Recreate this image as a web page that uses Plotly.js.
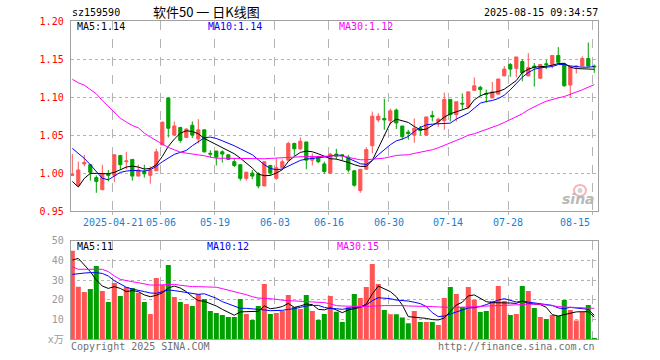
<!DOCTYPE html>
<html>
<head>
<meta charset="utf-8">
<script src="https://cdn.plot.ly/plotly-3.0.1.min.js"></script>
<style>html,body{margin:0;padding:0;background:#fff;}#chart{width:660px;height:360px;}</style>
</head>
<body>
<div id="chart"></div>
<script>
// ---------------- data ----------------
const dates = ["2025-04-10","2025-04-11","2025-04-14","2025-04-15","2025-04-16","2025-04-17","2025-04-18","2025-04-21","2025-04-22","2025-04-23","2025-04-24","2025-04-25","2025-04-28","2025-04-29","2025-04-30","2025-05-06","2025-05-07","2025-05-08","2025-05-09","2025-05-12","2025-05-13","2025-05-14","2025-05-15","2025-05-16","2025-05-19","2025-05-20","2025-05-21","2025-05-22","2025-05-23","2025-05-26","2025-05-27","2025-05-28","2025-05-29","2025-05-30","2025-06-03","2025-06-04","2025-06-05","2025-06-06","2025-06-09","2025-06-10","2025-06-11","2025-06-12","2025-06-13","2025-06-16","2025-06-17","2025-06-18","2025-06-19","2025-06-20","2025-06-23","2025-06-24","2025-06-25","2025-06-26","2025-06-27","2025-06-30","2025-07-01","2025-07-02","2025-07-03","2025-07-04","2025-07-07","2025-07-08","2025-07-09","2025-07-10","2025-07-11","2025-07-14","2025-07-15","2025-07-16","2025-07-17","2025-07-18","2025-07-21","2025-07-22","2025-07-23","2025-07-24","2025-07-25","2025-07-28","2025-07-29","2025-07-30","2025-07-31","2025-08-01","2025-08-04","2025-08-05","2025-08-06","2025-08-07","2025-08-08","2025-08-11","2025-08-12","2025-08-13","2025-08-14","2025-08-15"];

const openP = [0.997,0.984,1.012,1.011,0.994,0.978,0.999,0.997,1.023,1.015,
1.018,0.996,1.002,0.997,1.003,1.037,1.099,1.050,1.060,1.047,
1.063,1.045,1.057,1.026,1.029,1.028,1.024,1.015,1.011,0.993,
1.000,0.999,0.983,1.010,0.993,1.007,1.017,1.039,1.032,1.041,
1.017,1.021,1.012,1.000,1.025,1.024,1.021,1.003,0.977,1.005,
1.036,1.070,1.072,1.069,1.083,1.062,1.054,1.050,1.059,1.050,
1.076,1.068,1.069,1.097,1.077,1.092,1.087,1.109,1.113,1.105,
1.099,1.104,1.128,1.143,1.138,1.147,1.128,1.141,1.125,1.144,
1.143,1.155,1.144,1.116,1.140,1.141,1.151,1.141];

const closeP = [0.998,1.004,1.014,1.001,0.989,0.999,0.997,1.024,1.011,1.016,
0.996,1.004,0.999,1.004,1.028,1.067,1.059,1.062,1.043,1.058,
1.050,1.057,1.028,1.025,1.021,1.025,1.018,1.010,0.993,1.001,
0.996,0.983,1.015,1.000,1.007,1.015,1.039,1.032,1.042,1.017,
1.022,1.015,1.002,1.025,1.022,1.023,1.004,0.984,1.005,1.031,
1.075,1.075,1.070,1.082,1.066,1.048,1.052,1.059,1.056,1.074,
1.074,1.071,1.097,1.077,1.094,1.091,1.107,1.115,1.110,1.104,
1.107,1.124,1.137,1.137,1.153,1.132,1.139,1.139,1.143,1.143,
1.155,1.146,1.115,1.140,1.141,1.151,1.141,1.140];

const highP = [1.025,1.015,1.024,1.012,0.997,1.011,1.004,1.025,1.024,1.028,
1.018,1.011,1.011,1.009,1.032,1.068,1.099,1.068,1.061,1.059,
1.068,1.071,1.057,1.030,1.029,1.030,1.025,1.019,1.011,1.002,
1.004,1.001,1.015,1.011,1.019,1.018,1.041,1.040,1.047,1.041,
1.026,1.023,1.015,1.026,1.032,1.025,1.024,1.004,1.005,1.034,
1.081,1.079,1.098,1.085,1.085,1.062,1.057,1.072,1.062,1.074,
1.082,1.073,1.106,1.097,1.094,1.105,1.107,1.126,1.115,1.110,
1.120,1.124,1.141,1.145,1.153,1.150,1.158,1.145,1.143,1.149,
1.155,1.166,1.145,1.140,1.141,1.154,1.172,1.143];

const lowP = [0.996,0.983,1.009,0.990,0.974,0.978,0.989,0.988,1.005,1.005,
0.990,0.996,0.994,0.986,1.003,1.037,1.047,1.050,1.040,1.046,
1.046,1.039,1.027,1.020,1.010,1.014,1.017,1.008,0.990,0.990,
0.992,0.980,0.983,0.997,0.991,1.006,1.017,1.023,1.030,1.005,
1.010,1.013,0.999,0.999,1.018,1.017,1.001,0.982,0.974,1.005,
1.026,1.067,1.057,1.064,1.058,1.044,1.044,1.040,1.050,1.049,
1.068,1.061,1.057,1.068,1.068,1.084,1.085,1.108,1.101,1.093,
1.099,1.104,1.128,1.127,1.126,1.121,1.128,1.114,1.124,1.137,
1.138,1.144,1.114,1.100,1.131,1.141,1.140,1.132];

const ma5 = [0.989,0.9816,0.993,0.9996,0.9996,0.9991,0.9991,1.0009,1.0044,1.0079,
1.0092,1.0079,1.0053,1.0061,1.011,1.0219,1.0351,1.0447,1.0526,1.0557,
1.0548,1.0518,1.0456,1.0417,1.0373,1.0342,1.0298,1.0254,1.0197,1.0132,
1.0066,0.9987,0.9965,0.9969,1.0,1.0044,1.0154,1.0219,1.0272,1.0289,
1.0281,1.0254,1.0219,1.0189,1.0184,1.0167,1.014,1.011,1.0088,1.0088,
1.0167,1.0329,1.0504,1.0658,1.0711,1.0684,1.0667,1.0614,1.057,1.0579,
1.0627,1.0675,1.0737,1.0781,1.0807,1.0833,1.086,1.0965,1.1018,1.1048,
1.1061,1.1075,1.1105,1.1158,1.1219,1.1325,1.1368,1.1395,1.1399,1.1408,
1.1421,1.1443,1.1447,1.1395,1.1377,1.1377,1.1377,1.1368];

const ma10 = [1.0325,1.0263,1.0193,1.011,1.0022,0.993,0.9912,0.9965,1.0009,1.0026,
1.0035,1.0031,1.0026,1.0044,1.0088,1.0149,1.0202,1.0246,1.0272,1.0298,
1.036,1.0412,1.0465,1.0474,1.0456,1.0425,1.0395,1.036,1.032,1.0281,
1.0241,1.0175,1.011,1.0061,1.0044,1.0053,1.0088,1.0132,1.0167,1.0184,
1.0197,1.0202,1.0211,1.0224,1.0237,1.0232,1.0197,1.0158,1.0123,1.0114,
1.0167,1.0241,1.0307,1.0373,1.0425,1.0447,1.0482,1.0548,1.0601,1.0636,
1.0645,1.0649,1.0658,1.0658,1.0711,1.0746,1.0789,1.0855,1.0921,1.0943,
1.0956,1.0982,1.1026,1.1097,1.1184,1.1263,1.1325,1.1368,1.1386,1.1395,
1.1404,1.143,1.143,1.1412,1.1399,1.1395,1.1395,1.1404];

const ma30 = [1.1237,1.1189,1.1158,1.1105,1.1044,1.0956,1.0877,1.0798,1.0724,1.0671,
1.0627,1.0596,1.0526,1.0474,1.0425,1.0382,1.0338,1.0307,1.0276,1.0263,
1.0254,1.0246,1.0228,1.0211,1.0195,1.0195,1.0193,1.0191,1.0189,1.0189,
1.0184,1.0184,1.0189,1.0193,1.0197,1.0202,1.0206,1.0215,1.0219,1.0219,
1.0215,1.0215,1.0215,1.0224,1.0228,1.0224,1.0206,1.0193,1.0175,1.0175,
1.0180,1.0184,1.0197,1.0215,1.0232,1.0238,1.0241,1.0259,1.0272,1.0289,
1.0307,1.0333,1.0368,1.0395,1.043,1.0461,1.05,1.0518,1.0544,1.057,
1.0605,1.0632,1.0667,1.0702,1.0737,1.0781,1.0833,1.0877,1.0912,1.0947,
1.0974,1.0991,1.1009,1.1035,1.107,1.1097,1.1132,1.1165];

const volume = [44.9,26.7,24.0,25.5,37.2,24.5,18.9,28.5,22.0,26.5,
26.0,23.6,18.9,12.8,31.1,27.5,37.7,21.5,18.9,17.9,
16.9,23.0,20.4,14.4,13.3,12.3,11.3,11.3,20.4,12.8,
9.8,16.9,28.0,12.8,13.3,14.4,22.5,16.4,15.4,22.5,
14.4,9.8,12.8,22.0,14.0,8.8,16.2,23.0,21.0,26.5,
38.2,28.0,14.9,12.7,12.7,11.1,8.1,14.4,8.8,8.8,
8.8,7.3,21.0,26.5,23.0,16.4,26.5,20.0,13.9,14.4,
19.4,27.0,19.4,12.3,12.8,27.0,24.5,15.9,11.3,10.3,
12.3,11.8,19.9,14.9,9.5,13.9,17.4,0.7];

const vma5 = [40.2,41.0,37.7,34.3,30.1,27.0,25.8,26.7,25.8,24.2,
24.7,24.2,22.5,21.6,22.3,23.6,26.0,27.0,26.0,24.2,
21.6,19.6,19.3,18.2,16.9,15.2,13.5,12.2,13.9,13.9,
13.9,14.2,16.9,15.5,15.9,16.6,18.2,16.2,16.9,17.9,
17.6,15.2,14.9,16.0,14.9,13.5,14.9,15.7,16.2,17.9,
23.0,27.0,25.8,24.2,21.6,17.4,11.5,11.3,11.1,10.6,
10.0,9.8,10.8,14.0,17.4,18.8,22.0,22.5,20.8,19.1,
18.6,18.6,18.6,18.4,18.2,19.4,18.2,17.9,17.6,16.2,
12.5,11.8,12.5,13.2,13.9,14.0,14.0,11.3];

const vma10 = [32.9,33.4,33.6,33.8,33.8,33.4,32.1,29.7,27.9,26.4,
25.5,25.0,24.2,23.5,23.3,24.2,25.0,24.7,24.2,23.5,
23.0,22.8,23.1,22.1,20.8,19.1,17.9,16.6,15.7,15.7,
15.5,15.2,14.9,14.5,14.5,14.7,15.2,15.5,16.2,16.9,
17.2,17.2,16.2,15.6,15.5,15.2,15.7,16.2,16.4,17.4,
19.6,21.1,20.9,20.6,19.9,19.8,19.4,18.8,18.1,16.6,
13.5,11.5,11.8,12.8,13.9,14.9,15.9,16.0,16.6,17.6,
18.9,19.9,20.6,19.9,18.9,19.3,18.9,18.6,17.9,17.6,
17.2,15.9,15.5,16.2,15.9,15.5,15.2,12.2];

const vma30 = [36.8,35.5,35.5,35.5,35.8,35.5,34.3,32.1,30.4,29.7,
29.2,28.7,28.0,27.5,27.5,27.7,28.0,27.9,27.4,27.0,
26.7,26.7,26.7,26.5,26.4,25.7,25.0,24.2,23.5,22.6,
21.6,20.9,20.8,20.6,20.3,19.8,19.6,19.4,19.3,19.3,
19.1,18.9,18.6,18.0,17.1,16.9,16.7,16.6,16.6,16.7,
16.9,16.9,17.1,17.1,17.2,17.1,16.9,16.9,16.7,16.6,
16.6,16.4,16.2,16.2,16.2,16.2,16.4,16.6,16.7,16.9,
16.9,17.1,17.2,17.2,17.4,17.6,17.9,17.9,17.7,17.4,
16.9,16.6,16.4,16.2,16.0,15.9,15.9,15.7];

const tickDates = ["2025-04-21","2025-05-06","2025-05-19","2025-06-03","2025-06-16","2025-06-30","2025-07-14","2025-07-28","2025-08-15"];
const tickLabels = ["2025-04-21","05-06","05-19","06-03","06-16","06-30","07-14","07-28","08-15"];
const priceTicks = [0.95,1.00,1.05,1.10,1.15,1.20];
const volTicks = [0,10,20,30,40,50];
const volTickLabels = ["x万","10","20","30","40","50"];

const symbol = "sz159590";
const chartTitle = "软件50 一 日K线图";
const stamp = "2025-08-15 09:34:57";
const maLabels = ["MA5:1.14","MA10:1.14","MA30:1.12"];
const volMaLabels = ["MA5:11","MA10:12","MA30:15"];

// ---------------- styling ----------------
const RED = "#ff5555", GREEN = "#00a000";
const MONO = "DejaVu Sans Mono, monospace";
const W = 660, H = 360;
const px = v => v / W, py = v => 1 - v / H;
const GRID_SHIFT = -0.3;
const idx = dates.map((d, i) => i);
const tickPos = tickDates.map(d => dates.indexOf(d) + GRID_SHIFT);
const xRange = [-0.27, 87.57];
const xDom = [px(70.7), px(597.7)];

const traces = [
  {type: "candlestick", x: idx, open: openP, high: highP, low: lowP, close: closeP,
   xaxis: "x", yaxis: "y", hoverinfo: "skip", whiskerwidth: 0,
   increasing: {line: {color: RED, width: 1}, fillcolor: RED},
   decreasing: {line: {color: GREEN, width: 1}, fillcolor: GREEN}},
  {type: "scatter", mode: "lines", x: idx, y: ma5, line: {color: "#000000", width: 1}, xaxis: "x", yaxis: "y", hoverinfo: "skip"},
  {type: "scatter", mode: "lines", x: idx, y: ma10, line: {color: "#0000ff", width: 1}, xaxis: "x", yaxis: "y", hoverinfo: "skip"},
  {type: "scatter", mode: "lines", x: idx, y: ma30, line: {color: "#ff00ff", width: 1}, xaxis: "x", yaxis: "y", hoverinfo: "skip"},
  {type: "bar", x: idx, y: volume, width: 0.84, xaxis: "x2", yaxis: "y2", hoverinfo: "skip",
   marker: {color: idx.map(i => closeP[i] >= openP[i] ? RED : GREEN), line: {width: 0}}},
  {type: "scatter", mode: "lines", x: idx, y: vma5, line: {color: "#000000", width: 1}, xaxis: "x2", yaxis: "y2", hoverinfo: "skip"},
  {type: "scatter", mode: "lines", x: idx, y: vma10, line: {color: "#0000ff", width: 1}, xaxis: "x2", yaxis: "y2", hoverinfo: "skip"},
  {type: "scatter", mode: "lines", x: idx, y: vma30, line: {color: "#ff00ff", width: 1}, xaxis: "x2", yaxis: "y2", hoverinfo: "skip"}
];

const frame = {showline: true, mirror: true, linecolor: "#a0a0a0", linewidth: 1, zeroline: false, automargin: false};
const xCommon = Object.assign({}, frame, {
  type: "linear", range: xRange, domain: xDom, tickmode: "array", tickvals: tickPos,
  showticklabels: false, showgrid: true, gridcolor: "#b4b4b4", griddash: "dash", gridwidth: 1,
  ticks: "outside", ticklen: 3, tickcolor: "#b4b4b4", fixedrange: true,
  rangeslider: {visible: false}
});

const annText = (text, x, y, color, anchor, size, family) => ({
  text: text, xref: "paper", yref: "paper", x: x, y: y, xanchor: anchor, yanchor: "middle",
  showarrow: false, font: {family: family || MONO, size: size || 10, color: color}
});

const annotations = [
  annText(symbol, px(70), py(13), "#000", "left"),
  annText(chartTitle, px(206), py(12), "#000", "center", 13, "Noto Sans CJK SC"),
  annText(stamp, px(600), py(13), "#000", "right"),
  annText(maLabels[0], px(75), py(26.5), "#000", "left"),
  annText(maLabels[1], px(206), py(26.5), "#0000ff", "left"),
  annText(maLabels[2], px(337), py(26.5), "#ff00ff", "left"),
  annText(volMaLabels[0], px(75), py(246.5), "#000", "left"),
  annText(volMaLabels[1], px(205), py(246.5), "#0000ff", "left"),
  annText(volMaLabels[2], px(335), py(246.5), "#ff00ff", "left"),
  annText("Copyright 2025 SINA.COM", px(69), py(346.5), "#707070", "left"),
  annText("http://finance.sina.com.cn", px(597), py(346.5), "#707070", "right"),
  {text: "<i><b>sina</b></i>", xref: "paper", yref: "paper", x: px(597), y: py(199), xanchor: "right", yanchor: "middle",
   showarrow: false, font: {family: "DejaVu Sans", size: 14, color: "#b8b8b8"}}
];
tickLabels.forEach((t, k) => {
  annotations.push({text: t, xref: "x", yref: "paper", x: tickPos[k], y: py(222),
    xanchor: k === tickLabels.length - 1 ? "right" : "center", yanchor: "middle", showarrow: false,
    font: {family: MONO, size: 10, color: "#1a7fd0"}});
});

const layout = {
  width: W, height: H, margin: {l: 0, r: 0, t: 0, b: 0, autoexpand: false},
  paper_bgcolor: "#fff", plot_bgcolor: "#fff", showlegend: false, boxgap: 0.25,
  font: {family: MONO, size: 10},
  xaxis: Object.assign({}, xCommon, {anchor: "y"}),
  xaxis2: Object.assign({}, xCommon, {anchor: "y2", matches: "x", ticks: ""}),
  yaxis: Object.assign({}, frame, {
    domain: [py(211), py(21.3)], range: [0.95, 1.20], tickmode: "array", tickvals: priceTicks,
    ticktext: priceTicks.map(v => v.toFixed(2)), tickfont: {family: MONO, size: 10, color: "#ff0000"},
    showgrid: true, gridcolor: "#b4b4b4", griddash: "dot", ticks: "", ticklabelstandoff: 4, fixedrange: true
  }),
  yaxis2: Object.assign({}, frame, {
    domain: [py(339.3), py(240.7)], range: [0, 50], tickmode: "array", tickvals: volTicks,
    ticktext: volTickLabels, tickfont: {family: MONO + ", Noto Sans CJK SC", size: 10, color: "#999999"},
    showgrid: true, gridcolor: "#b4b4b4", griddash: "dot", ticks: "", ticklabelstandoff: 4, fixedrange: true
  }),
  annotations: annotations,
  shapes: [
    {type: "circle", xref: "paper", yref: "paper", x0: px(574), x1: px(586), y0: py(196), y1: py(185),
     line: {color: "rgba(240,120,120,0.55)", width: 2}},
    {type: "circle", xref: "paper", yref: "paper", x0: px(577.5), x1: px(582.5), y0: py(193), y1: py(188),
     fillcolor: "rgba(200,200,200,0.8)", line: {width: 0}}
  ]
};

Plotly.newPlot("chart", traces, layout, {staticPlot: true, displayModeBar: false});
</script>
</body>
</html>
